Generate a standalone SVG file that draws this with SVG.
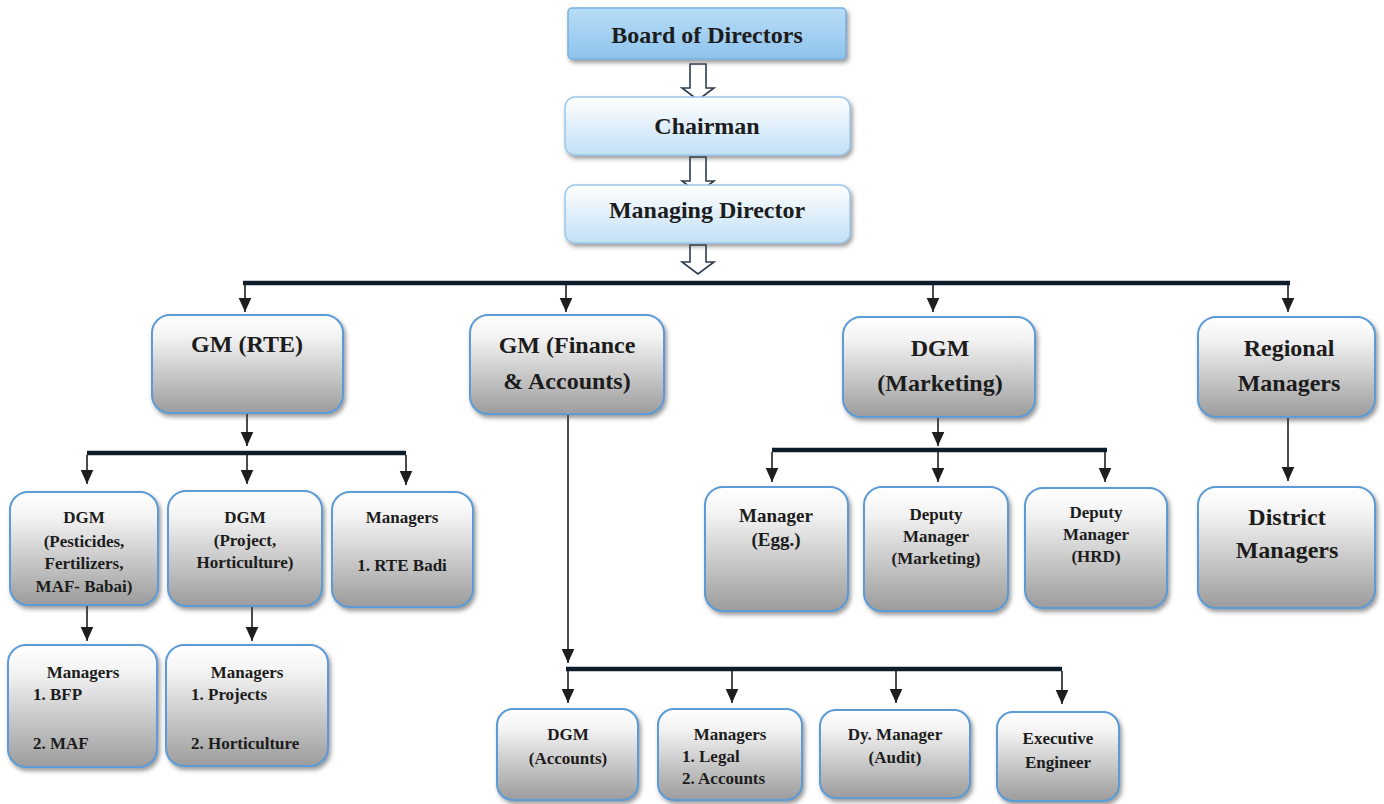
<svg xmlns="http://www.w3.org/2000/svg" width="1384" height="804" viewBox="0 0 1384 804">
  <defs>
    <linearGradient id="gGray" x1="0" y1="0" x2="0" y2="1">
      <stop offset="0" stop-color="#ffffff"/>
      <stop offset="0.22" stop-color="#f3f3f3"/>
      <stop offset="1" stop-color="#9c9c9c"/>
    </linearGradient>
    <linearGradient id="gBlue" x1="0" y1="0" x2="0" y2="1">
      <stop offset="0" stop-color="#b9ddf8"/>
      <stop offset="1" stop-color="#8ec3ec"/>
    </linearGradient>
    <linearGradient id="gLight" x1="0" y1="0" x2="0" y2="1">
      <stop offset="0" stop-color="#ffffff"/>
      <stop offset="1" stop-color="#c2dff5"/>
    </linearGradient>
    <filter id="sh" x="-10%" y="-10%" width="125%" height="130%">
      <feDropShadow dx="2" dy="3" stdDeviation="2" flood-color="#4a4a4a" flood-opacity="0.55"/>
    </filter>
    <marker id="ah" viewBox="0 0 10 10" refX="10" refY="5" markerWidth="14" markerHeight="14" markerUnits="userSpaceOnUse" orient="auto">
      <path d="M0,0.5 L10,5 L0,9.5 z" fill="#1e1e1e"/>
    </marker>
    <style>
      .box { fill: url(#gGray); stroke: #5b9bd5; stroke-width: 2; filter: url(#sh); }
      .top { fill: url(#gLight); stroke: #9cc8ec; stroke-width: 1.5; filter: url(#sh); }
      .bod { fill: url(#gBlue); stroke: #79b1df; stroke-width: 1.5; filter: url(#sh); }
      text { font-family: "Liberation Serif", "Times New Roman", serif; font-weight: bold; fill: #1c1c1c; }
      .c { text-anchor: middle; }
      .l { font-size: 24px; }
      .s { font-size: 17px; }
      .m { font-size: 19px; }
      .ln { stroke: #1e1e1e; stroke-width: 1.6; fill: none; marker-end: url(#ah); }
      .bus { stroke: #0e1c2b; stroke-width: 4.5; fill: none; }
      .hol { fill: #ffffff; stroke: #2e3d4f; stroke-width: 1.6; }
    </style>
  </defs>

  <rect width="1384" height="804" fill="#ffffff"/>

  <g id="connectors">
    <!-- hollow arrows at top -->
    <path class="hol" d="M690,64 H706 V88 H714 L698,100 L682,88 H690 Z"/>
    <path class="hol" d="M690,157 H706 V181 H714 L698,193 L682,181 H690 Z"/>
    <path class="hol" d="M690,245 H706 V262 H714 L698,274 L682,262 H690 Z"/>
    <!-- main bus -->
    <path class="bus" d="M243,283 H1290"/>
    <path class="ln" d="M245,285 V312"/>
    <path class="ln" d="M566,285 V312"/>
    <path class="ln" d="M933,285 V312"/>
    <path class="ln" d="M1288,285 V312"/>
    <!-- GM RTE branch -->
    <path class="ln" d="M247,414 V446"/>
    <path class="bus" d="M87,453 H406"/>
    <path class="ln" d="M87,455 V484"/>
    <path class="ln" d="M247,455 V484"/>
    <path class="ln" d="M406,455 V485"/>
    <path class="ln" d="M87,606 V641"/>
    <path class="ln" d="M252,607 V641"/>
    <!-- Finance branch -->
    <path class="ln" d="M568,415 V663"/>
    <path class="bus" d="M566,669 H1062"/>
    <path class="ln" d="M568,671 V703"/>
    <path class="ln" d="M732,671 V703"/>
    <path class="ln" d="M896,671 V703"/>
    <path class="ln" d="M1062,671 V704"/>
    <!-- Marketing branch -->
    <path class="ln" d="M938,418 V446"/>
    <path class="bus" d="M772,450 H1107"/>
    <path class="ln" d="M772,452 V482"/>
    <path class="ln" d="M938,452 V482"/>
    <path class="ln" d="M1105,452 V482"/>
    <!-- Regional -->
    <path class="ln" d="M1288,418 V481"/>
  </g>

  <g id="board">
    <rect class="bod" x="568" y="8" width="278" height="51" rx="4"/>
    <text class="c l" x="707" y="43">Board of Directors</text>
  </g>
  <g id="chairman">
    <rect class="top" x="565" y="97" width="285" height="58" rx="10"/>
    <text class="c l" x="707" y="134">Chairman</text>
  </g>
  <g id="md">
    <rect class="top" x="565" y="185" width="285" height="58" rx="10"/>
    <text class="c l" x="707" y="218">Managing Director</text>
  </g>

  <g id="gm-rte">
    <rect class="box" x="152" y="315" width="191" height="98" rx="18"/>
    <text class="c l" x="247" y="352">GM (RTE)</text>
  </g>
  <g id="gm-finance">
    <rect class="box" x="470" y="315" width="194" height="99" rx="18"/>
    <text class="c l" x="567" y="353">GM (Finance</text>
    <text class="c l" x="567" y="389">&amp; Accounts)</text>
  </g>
  <g id="dgm-marketing">
    <rect class="box" x="843" y="317" width="192" height="100" rx="18"/>
    <text class="c l" x="940" y="356">DGM</text>
    <text class="c l" x="940" y="391">(Marketing)</text>
  </g>
  <g id="regional">
    <rect class="box" x="1198" y="317" width="177" height="100" rx="18"/>
    <text class="c l" x="1289" y="356">Regional</text>
    <text class="c l" x="1289" y="391">Managers</text>
  </g>

  <g id="dgm-pesticides">
    <rect class="box" x="10" y="492" width="148" height="113" rx="18"/>
    <text class="c s" x="84" y="523">DGM</text>
    <text class="c s" x="84" y="547">(Pesticides,</text>
    <text class="c s" x="84" y="569">Fertilizers,</text>
    <text class="c s" x="84" y="592">MAF- Babai)</text>
  </g>
  <g id="dgm-project">
    <rect class="box" x="168" y="491" width="154" height="115" rx="18"/>
    <text class="c s" x="245" y="523">DGM</text>
    <text class="c s" x="245" y="546">(Project,</text>
    <text class="c s" x="245" y="568">Horticulture)</text>
  </g>
  <g id="managers-rte">
    <rect class="box" x="332" y="492" width="141" height="115" rx="18"/>
    <text class="c s" x="402" y="523">Managers</text>
    <text class="c s" x="402" y="571">1. RTE Badi</text>
  </g>

  <g id="managers-bfp">
    <rect class="box" x="8" y="645" width="149" height="122" rx="18"/>
    <text class="c s" x="83" y="678">Managers</text>
    <text class="s" x="33" y="700">1. BFP</text>
    <text class="s" x="33" y="749">2. MAF</text>
  </g>
  <g id="managers-projects">
    <rect class="box" x="166" y="645" width="162" height="121" rx="18"/>
    <text class="c s" x="247" y="678">Managers</text>
    <text class="s" x="191" y="700">1. Projects</text>
    <text class="s" x="191" y="749">2. Horticulture</text>
  </g>

  <g id="manager-egg">
    <rect class="box" x="705" y="487" width="143" height="124" rx="18"/>
    <text class="c m" x="776" y="522">Manager</text>
    <text class="c m" x="776" y="546">(Egg.)</text>
  </g>
  <g id="deputy-marketing">
    <rect class="box" x="864" y="487" width="144" height="124" rx="18"/>
    <text class="c s" x="936" y="520">Deputy</text>
    <text class="c s" x="936" y="542">Manager</text>
    <text class="c s" x="936" y="564">(Marketing)</text>
  </g>
  <g id="deputy-hrd">
    <rect class="box" x="1025" y="488" width="142" height="120" rx="18"/>
    <text class="c s" x="1096" y="518">Deputy</text>
    <text class="c s" x="1096" y="540">Manager</text>
    <text class="c s" x="1096" y="562">(HRD)</text>
  </g>
  <g id="district">
    <rect class="box" x="1198" y="487" width="177" height="121" rx="18"/>
    <text class="c l" x="1287" y="525">District</text>
    <text class="c l" x="1287" y="558">Managers</text>
  </g>

  <g id="dgm-accounts">
    <rect class="box" x="497" y="709" width="141" height="91" rx="16"/>
    <text class="c s" x="568" y="740">DGM</text>
    <text class="c s" x="568" y="764">(Accounts)</text>
  </g>
  <g id="managers-legal">
    <rect class="box" x="658" y="709" width="144" height="91" rx="16"/>
    <text class="c s" x="730" y="740">Managers</text>
    <text class="s" x="682" y="762">1. Legal</text>
    <text class="s" x="682" y="784">2. Accounts</text>
  </g>
  <g id="dy-manager-audit">
    <rect class="box" x="820" y="710" width="150" height="88" rx="16"/>
    <text class="c s" x="895" y="740">Dy. Manager</text>
    <text class="c s" x="895" y="763">(Audit)</text>
  </g>
  <g id="executive-engineer">
    <rect class="box" x="997" y="712" width="122" height="89" rx="16"/>
    <text class="c s" x="1058" y="744">Executive</text>
    <text class="c s" x="1058" y="768">Engineer</text>
  </g>
</svg>
